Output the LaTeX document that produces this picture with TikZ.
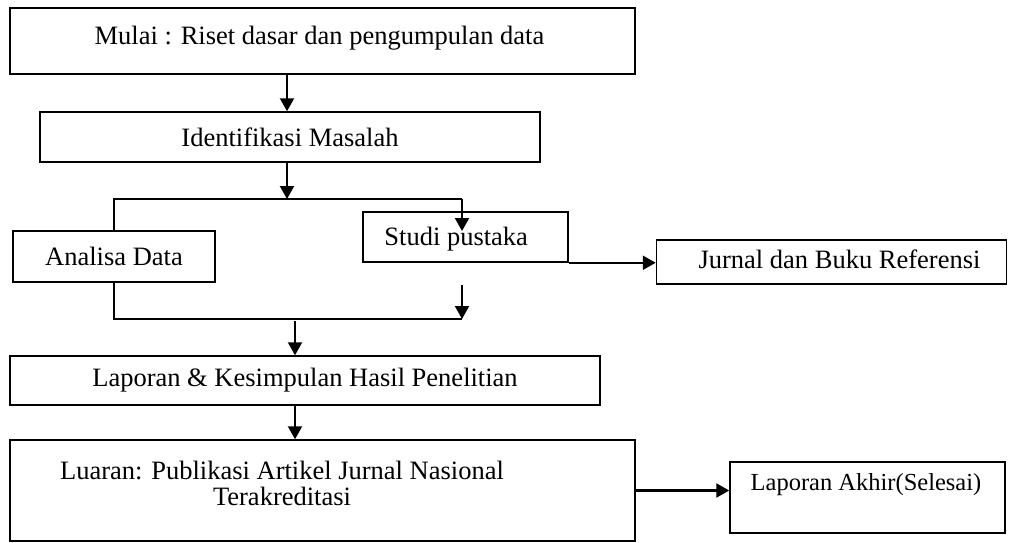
\documentclass[tikz,border=0pt]{standalone}
\usepackage{fontspec}
\setmainfont{Liberation Serif}
\usetikzlibrary{arrows.meta,calc}
\begin{document}
\begin{tikzpicture}[x=1pt,y=-1pt,
  box/.style={draw,line width=1.5pt,rectangle,inner sep=0pt},
  arr/.style={line width=2.2pt,-{Triangle[length=13pt,width=14pt]}},
  ln/.style={line width=1.6pt},
  txt/.style={font=\fontsize{26.5}{26}\selectfont},
  smalltxt/.style={font=\fontsize{24.5}{26}\selectfont}]
\useasboundingbox (0,0) rectangle (1010,542);
\fill[white] (0,0) rectangle (1010,542);
% boxes
\node[box,minimum width=625pt,minimum height=66pt] (mulai) at (322.5,41) {};
\node[txt] (mulait) at (319.5,38) {Mulai : Riset dasar dan pengumpulan data};
\node[box,minimum width=500pt,minimum height=50pt,txt] (ident) at (290,137) {Identifikasi Masalah};
\node[box,minimum width=202pt,minimum height=51pt,txt] (analisa) at (114,256.5) {Analisa Data};
\node[box,minimum width=205pt,minimum height=50pt] (studi) at (465.5,237) {};
\node[txt,anchor=west,inner sep=0pt] (studit) at ($(studi.west)+(22,2)$) {Studi pustaka};
\node[box,minimum width=350pt,minimum height=44pt] (jurnal) at (831.5,262) {};
\node[txt] (jurnalt) at (839.5,259) {Jurnal dan Buku Referensi};
\node[box,minimum width=590pt,minimum height=49pt,txt] (lapor) at (305,380.5) {Laporan \& Kesimpulan Hasil Penelitian};
\node[box,minimum width=625pt,minimum height=101pt] (luaran) at (322.5,490.5) {};
\node[txt,align=center,inner sep=0pt] (luarant) at (282,483) {Luaran: Publikasi Artikel Jurnal Nasional\\Terakreditasi};
\node[box,minimum width=275pt,minimum height=71pt] (akhir) at (867.5,497.5) {};
\node[smalltxt] (akhirt) at (866,485) {Laporan Akhir(Selesai)};
% coordinates
\coordinate (ca) at (287,0);
\coordinate (br) at (287,199);
\coordinate (bl) at (114,199);
\coordinate (brr) at (462,199);
\coordinate (sin) at (462,231);
\coordinate (jl) at (114,319);
\coordinate (jr) at (462,319);
\coordinate (jt) at (462,285);
\coordinate (jm) at (295,321);
% connectors
\draw[arr] (mulai.south -| ca) -- (ident.north -| ca);
\draw[arr] (ident.south -| ca) -- (br);
\draw[ln] (analisa.north -| bl) -- (bl) -- (brr);
\draw[arr] (brr) -- (sin);
\draw[arr] (studi.south east) -- (jurnal.west |- studi.south east);
\draw[ln] (analisa.south -| jl) -- (jl) -- (jr);
\draw[arr] (jt) -- (jr);
\draw[arr] (jm) -- (lapor.north -| jm);
\draw[arr] (lapor.south -| jm) -- (luaran.north -| jm);
\draw[arr] (luaran.east) -- (akhir.west |- luaran.east);
\end{tikzpicture}
\end{document}
